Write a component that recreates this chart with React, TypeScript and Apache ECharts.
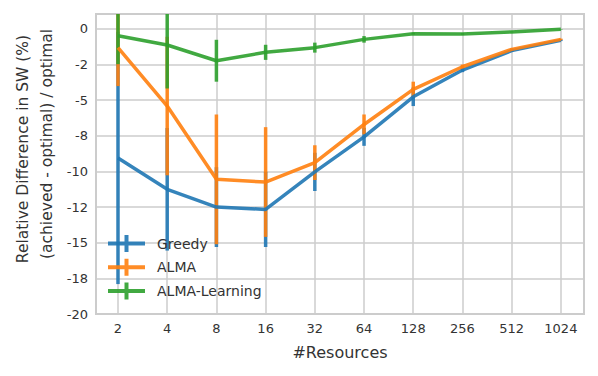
import React, { useEffect, useRef } from "react";
import * as echarts from "echarts";

const resources = [2, 4, 8, 16, 32, 64, 128, 256, 512, 1024];
const xTickLabels = ["2", "4", "8", "16", "32", "64", "128", "256", "512", "1024"];

const greedyMean = [-9.05, -11.25, -12.5, -12.66, -10.03, -7.57, -4.76, -2.88, -1.52, -0.8];
const greedyErr = [8.85, 4.3, 2.8, 2.64, 1.34, 0.63, 0.65, 0.15, 0.08, 0.05];
const almaMean = [-1.31, -5.41, -10.55, -10.74, -9.38, -6.7, -4.24, -2.65, -1.43, -0.73];
const almaErr = [2.7, 4.86, 4.55, 3.85, 1.22, 0.7, 0.54, 0.15, 0.08, 0.05];
const learnMean = [-0.47, -1.125, -2.23, -1.64, -1.31, -0.73, -0.33, -0.35, -0.21, -0.02];
const learnErr = [2.0, 3.05, 1.47, 0.53, 0.35, 0.23, 0.05, 0.05, 0.03, 0.02];

const yTicks = [-20, -17.5, -15, -12.5, -10, -7.5, -5, -2.5, 0];
const yTickLabels = ["-20", "-18", "-15", "-12", "-10", "-8", "-5", "-2", "0"];

const Y_MIN = -20;
const Y_MAX = 1.05;
const FONT = "DejaVu Sans";

const COLORS = {
  greedy: "rgba(31,119,180,0.9)",
  alma: "rgba(255,127,14,0.9)",
  learn: "rgba(44,160,44,0.9)",
};

function lineSeries(name: string, mean: number[], color: string) {
  return {
    name,
    type: "line",
    data: resources.map((r, i) => [Math.log2(r), mean[i]]),
    showSymbol: false,
    symbol: "none",
    lineStyle: { color, width: 3.5 },
    itemStyle: { color },
    z: 2,
  };
}

function errSeries(name: string, mean: number[], err: number[], color: string) {
  return {
    name,
    type: "custom",
    data: resources.map((r, i) => [Math.log2(r), mean[i], err[i]]),
    encode: { x: 0, y: 1 },
    clip: true,
    z: 2,
    renderItem: (params: any, api: any) => {
      const x = api.value(0);
      const m = api.value(1);
      const e = api.value(2);
      const lo = Math.max(Y_MIN, m - e);
      const hi = Math.min(Y_MAX, m + e);
      const p1 = api.coord([x, lo]);
      const p2 = api.coord([x, hi]);
      return {
        type: "line",
        shape: { x1: p1[0], y1: p1[1], x2: p2[0], y2: p2[1] },
        style: { stroke: color, lineWidth: 3.5 },
      };
    },
  };
}

export default function App() {
  const ref = useRef<HTMLDivElement>(null);
  useEffect(() => {
    if (!ref.current) return;
    const chart = echarts.init(ref.current, null, { renderer: "svg" });
    const tickVals = resources.map((r) => Math.log2(r));
    chart.setOption({
      animation: false,
      textStyle: { fontFamily: FONT },
      grid: {
        left: 96,
        right: 14,
        top: 14,
        bottom: 62,
        show: true,
        borderColor: "#cccccc",
        borderWidth: 2,
        backgroundColor: "transparent",
      },
      xAxis: {
        type: "value",
        min: 0.553,
        max: 10.47,
        axisLine: { show: false },
        axisTick: { show: false, customValues: tickVals },
        axisLabel: {
          customValues: tickVals,
          formatter: (v: number) => xTickLabels[Math.round(v) - 1] ?? "",
          fontSize: 13,
          color: "#333",
          margin: 8,
          fontFamily: FONT,
        },
        splitLine: { show: true, lineStyle: { color: "#cccccc", width: 1.5 } },
      },
      yAxis: {
        type: "value",
        min: Y_MIN,
        max: Y_MAX,
        interval: 2.5,
        axisLine: { show: false },
        axisTick: { show: false },
        axisLabel: {
          formatter: (v: number) => {
            const i = yTicks.findIndex((t) => Math.abs(t - v) < 1e-6);
            return i >= 0 ? yTickLabels[i] : "";
          },
          fontSize: 13,
          color: "#333",
          margin: 8,
          fontFamily: FONT,
        },
        splitLine: { show: true, lineStyle: { color: "#cccccc", width: 1.5 } },
      },
      legend: {
        orient: "vertical",
        left: 103,
        top: 230,
        itemWidth: 37,
        itemHeight: 17,
        itemGap: 6.7,
        icon: "path://M0,6.5H37V10.5H0Z M16.5,0H20.5V17H16.5Z",
        itemStyle: { borderWidth: 0 },
        textStyle: { fontSize: 14, color: "#333", padding: [0, 0, 0, 7], fontFamily: FONT },
        data: ["Greedy", "ALMA", "ALMA-Learning"],
      },
      graphic: [
        {
          type: "text",
          x: 23,
          y: 149,
          rotation: Math.PI / 2,
          style: {
            text: "Relative Difference in SW (%)",
            fontSize: 15.5,
            fill: "#333",
            fontFamily: FONT,
            textAlign: "center",
            textVerticalAlign: "middle",
          },
        },
        {
          type: "text",
          x: 47,
          y: 144,
          rotation: Math.PI / 2,
          style: {
            text: "(achieved - optimal) / optimal",
            fontSize: 15.5,
            fill: "#333",
            fontFamily: FONT,
            textAlign: "center",
            textVerticalAlign: "middle",
          },
        },
        {
          type: "text",
          x: 340,
          y: 352,
          style: {
            text: "#Resources",
            fontSize: 16,
            fill: "#333",
            fontFamily: FONT,
            textAlign: "center",
            textVerticalAlign: "middle",
          },
        },
      ],
      series: [
        lineSeries("Greedy", greedyMean, COLORS.greedy),
        errSeries("Greedy-err", greedyMean, greedyErr, COLORS.greedy),
        lineSeries("ALMA", almaMean, COLORS.alma),
        errSeries("ALMA-err", almaMean, almaErr, COLORS.alma),
        lineSeries("ALMA-Learning", learnMean, COLORS.learn),
        errSeries("ALMA-Learning-err", learnMean, learnErr, COLORS.learn),
      ],
    });
    return () => chart.dispose();
  }, []);
  return <div ref={ref} style={{ width: 598, height: 376, position: "absolute", left: 0, top: 0 }} />;
}
